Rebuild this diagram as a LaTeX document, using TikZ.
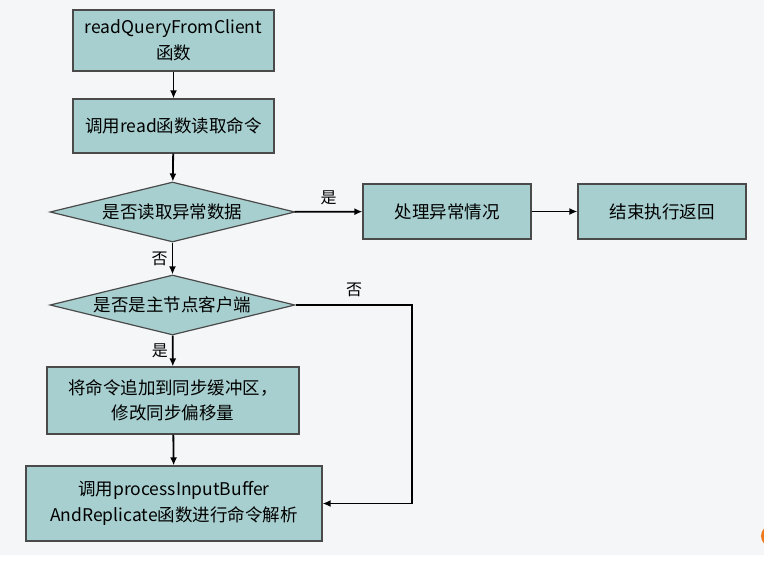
\documentclass[tikz,border=0pt]{standalone}
\usepackage{fontspec}
\setmainfont{Noto Sans CJK SC}
\usetikzlibrary{shapes.geometric,arrows.meta}
\definecolor{bgc}{HTML}{F5F6F8}
\definecolor{boxc}{HTML}{A8CFCF}
\definecolor{edgec}{HTML}{4A4A4A}
\definecolor{orangec}{HTML}{F07A1E}
\tikzset{
  box/.style={draw=edgec, line width=1.2pt, fill=boxc, align=center, inner sep=0pt, font=\fontsize{17.5}{25.5}\selectfont},
  dec/.style={draw=edgec, line width=1.2pt, fill=boxc, diamond, aspect=4.1, inner sep=0pt, align=center, font=\fontsize{17.5}{22}\selectfont},
  arr/.style={draw=black, line width=1.8pt, -{Latex[length=8pt,width=7pt]}},
  lab/.style={font=\fontsize{16}{18}\selectfont, inner sep=0pt}
}
\begin{document}
\begin{tikzpicture}[x=1pt,y=-1pt]
\useasboundingbox (0,0) rectangle (764,562);
\fill[bgc] (0,0) rectangle (764,555);
\fill[white] (0,555) rectangle (764,562);
\begin{scope}
\clip (0,0) rectangle (764,562);
\fill[orangec] (772,536) circle (11);
\end{scope}
\node[box, minimum width=201pt, minimum height=61pt] (b1) at (173.5,40.5) {readQueryFromClient\\函数};
\node[box, minimum width=201pt, minimum height=54pt] (b2) at (173.5,126) {调用read函数读取命令};
\node[dec, minimum width=245pt, minimum height=60pt] (d1) at (172.5,212) {是否读取异常数据};
\node[box, minimum width=168pt, minimum height=55pt] (b3) at (447,211.5) {处理异常情况};
\node[box, minimum width=168pt, minimum height=55pt] (b4) at (662,211.5) {结束执行返回};
\node[dec, minimum width=245pt, minimum height=60pt] (d2) at (172.5,305) {是否是主节点客户端};
\node[box, minimum width=252pt, minimum height=67pt] (b5) at (173,400.5) {将命令追加到同步缓冲区，\\修改同步偏移量};
\node[box, minimum width=296pt, minimum height=75pt] (b6) at (174,503.5) {调用processInputBuffer\\AndReplicate函数进行命令解析};
\coordinate (c1) at (412,305);
\coordinate (c2) at (412,503.5);
\draw[arr] (b1) -- (b2);
\draw[arr] (b2) -- (d1);
\draw[arr] (d1) -- node[lab, above=6pt] {是} (b3);
\draw[arr] (b3) -- (b4);
\draw[arr] (d1) -- node[lab, left=4pt] {否} (d2);
\draw[arr] (d2) -- node[lab, left=4pt] {是} (b5);
\draw[arr] (b5) -- (b6);
\draw[arr] (d2.east) -- (c1) -- (c2) -- (b6.east);
\node[lab] (n2) at (354,290) {否};
\end{tikzpicture}
\end{document}
